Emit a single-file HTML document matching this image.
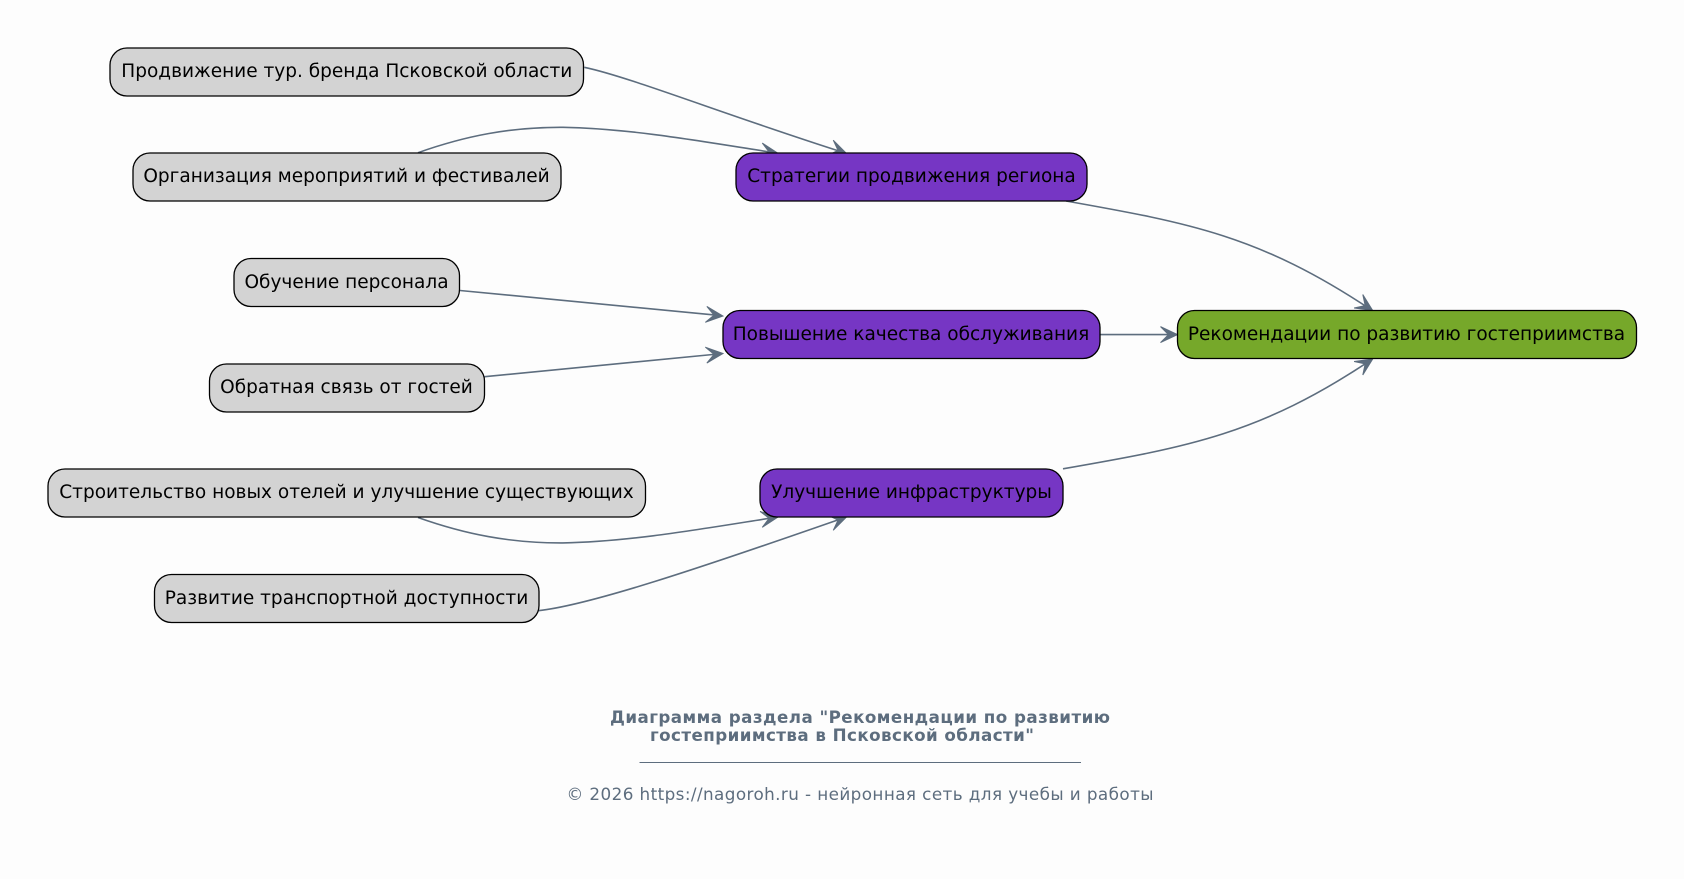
<!DOCTYPE html>
<html><head><meta charset="utf-8"><style>
html,body{margin:0;padding:0;background:#fdfdfd}
svg{display:block}
.n{font-family:"DejaVu Sans",sans-serif;font-size:18.53px;text-anchor:middle;fill:#000}
.r{stroke:#000;stroke-width:1.3}
.e{fill:none;stroke:#5d6d7e;stroke-width:1.6}
.h{fill:#5d6d7e;stroke:#5d6d7e;stroke-width:1}
.t{font-family:"DejaVu Sans",sans-serif;fill:#5d6d7e}
</style></head><body>
<svg width="1684" height="879" viewBox="0 0 1684 879" xmlns="http://www.w3.org/2000/svg">
<rect width="1684" height="879" fill="#fdfdfd"/>
<path class="e" d="M584.3,67.3C630,77 720,113 842,152"/>
<path class="e" d="M418,152.7C465,136 510,127 563,127.3C630,128.5 700,141 773,152.5"/>
<path class="e" d="M460,290.5L718,315.3"/>
<path class="e" d="M484.6,376.7L718,354"/>
<path class="e" d="M418,517.5C465,534.2 510,543.2 563,542.9C630,541.7 700,529.2 773,517.7"/>
<path class="e" d="M538.3,610.7C590,605 700,568 842,518.5"/>
<path class="e" d="M1066,201C1190,223 1260,236 1370,309"/>
<path class="e" d="M1100,334.6H1172"/>
<path class="e" d="M1063,468.8C1190,446.75 1260,433.75 1370,360.7"/>
<g class="h">
<polygon transform="translate(846.5,153.5) rotate(20)" points="0,0 -17,-8 -9,0 -17,8"/>
<polygon transform="translate(778,153.3) rotate(8)" points="0,0 -17,-8 -9,0 -17,8"/>
<polygon transform="translate(723,316) rotate(5.5)" points="0,0 -17,-8 -9,0 -17,8"/>
<polygon transform="translate(723,353.5) rotate(-5.5)" points="0,0 -17,-8 -9,0 -17,8"/>
<polygon transform="translate(778,517) rotate(-8)" points="0,0 -17,-8 -9,0 -17,8"/>
<polygon transform="translate(846.5,517) rotate(-20)" points="0,0 -17,-8 -9,0 -17,8"/>
<polygon transform="translate(1372.7,310.5) rotate(33)" points="0,0 -17,-8 -9,0 -17,8"/>
<polygon transform="translate(1177.5,334.6)" points="0,0 -17,-8 -9,0 -17,8"/>
<polygon transform="translate(1372.7,359) rotate(-33)" points="0,0 -17,-8 -9,0 -17,8"/>
</g>
<g class="r">
<rect x="110" y="48" width="473.5" height="48" rx="17" fill="#d3d3d3"/>
<rect x="133" y="153" width="428" height="48" rx="17" fill="#d3d3d3"/>
<rect x="234" y="258.5" width="225.5" height="48" rx="17" fill="#d3d3d3"/>
<rect x="209.5" y="364" width="275" height="48" rx="17" fill="#d3d3d3"/>
<rect x="48" y="469" width="597.5" height="48" rx="17" fill="#d3d3d3"/>
<rect x="154.5" y="574.5" width="384.5" height="48" rx="17" fill="#d3d3d3"/>
<rect x="736" y="153" width="351" height="48" rx="17" fill="#7636c4"/>
<rect x="723" y="310.5" width="377" height="48" rx="17" fill="#7636c4"/>
<rect x="760" y="469" width="303" height="48" rx="17" fill="#7636c4"/>
<rect x="1177.5" y="310.5" width="459" height="48" rx="17" fill="#76a82a"/>
</g>
<text class="n" x="346.8" y="77" textLength="451">Продвижение тур. бренда Псковской области</text>
<text class="n" x="346.5" y="182">Организация мероприятий и фестивалей</text>
<text class="n" x="346.5" y="288">Обучение персонала</text>
<text class="n" x="346.5" y="393">Обратная связь от гостей</text>
<text class="n" x="346.5" y="498">Строительство новых отелей и улучшение существующих</text>
<text class="n" x="346.5" y="604">Развитие транспортной доступности</text>
<text class="n" x="911.5" y="182">Стратегии продвижения региона</text>
<text class="n" x="911" y="340">Повышение качества обслуживания</text>
<text class="n" x="911.5" y="498">Улучшение инфраструктуры</text>
<text class="n" x="1406.5" y="340">Рекомендации по развитию гостеприимства</text>
<text class="t" x="860" y="723" font-size="16.7" font-weight="bold" text-anchor="middle" textLength="500">Диаграмма раздела "Рекомендации по развитию</text>
<text class="t" x="842" y="741" font-size="16.7" font-weight="bold" text-anchor="middle" textLength="384">гостеприимства в Псковской области"</text>
<rect x="639.5" y="762" width="441.5" height="1" fill="#5d6d7e"/>
<text class="t" x="860" y="800" font-size="16.8" text-anchor="middle" textLength="587">© 2026 https://nagoroh.ru - нейронная сеть для учебы и работы</text>
</svg>
</body></html>
